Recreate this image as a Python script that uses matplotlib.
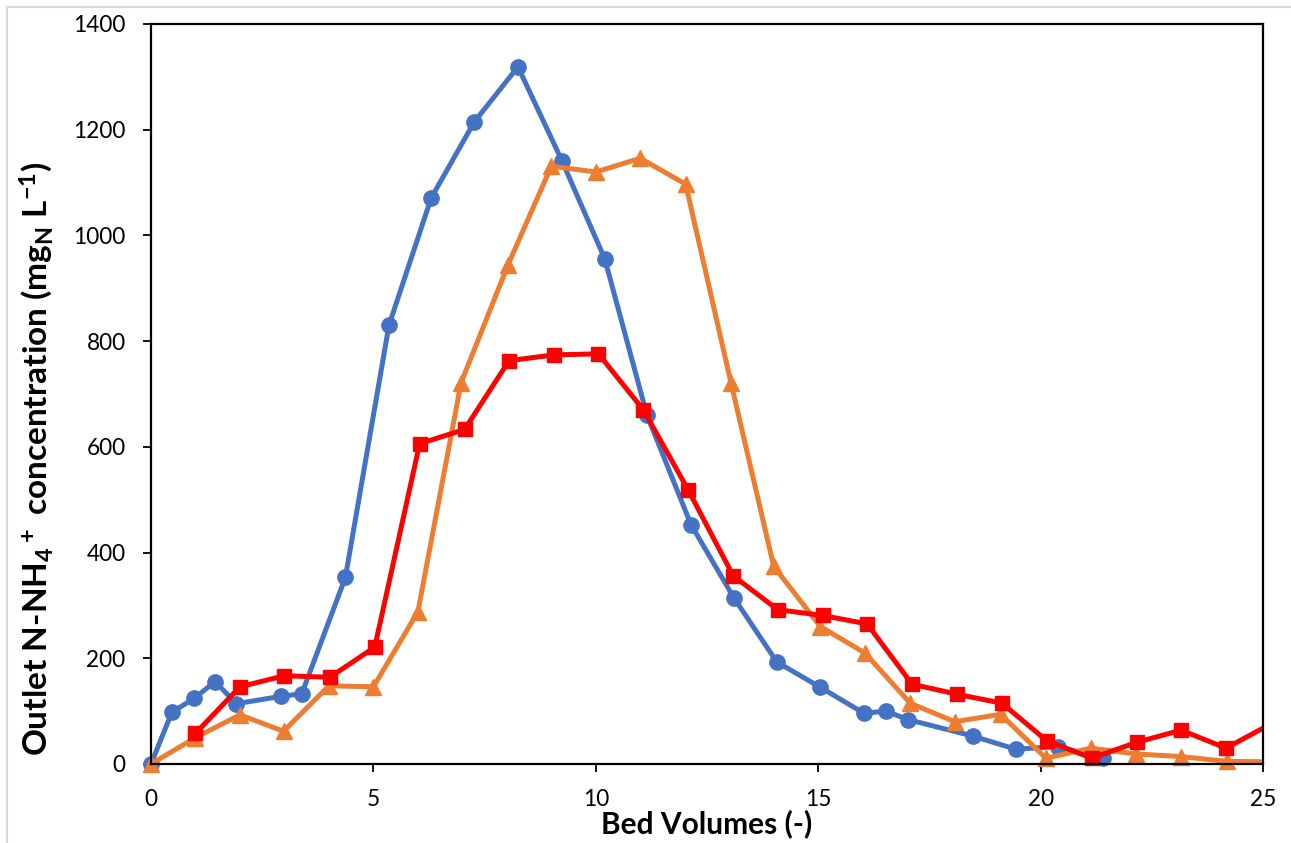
import matplotlib
matplotlib.use("Agg")
import matplotlib.pyplot as plt
from matplotlib.patches import Rectangle

plt.rcParams['font.family'] = ['Lato', 'DejaVu Sans']
plt.rcParams['mathtext.default'] = 'regular'

# series 1 (blue, circles)
bv_blue = [0, 0.47, 0.97, 1.44, 1.92, 2.92, 3.39, 4.37, 5.35, 6.3, 7.27, 8.25, 9.24,
           10.2, 11.15, 12.14, 13.1, 14.07, 15.05, 16.03, 16.52, 17.02, 18.47, 19.44,
           20.39, 21.4]
conc_blue = [0, 98, 124, 156, 114, 128, 133, 353, 830, 1071, 1215, 1319, 1141,
             956, 660, 453, 315, 193, 145, 96, 100, 84, 53, 28, 33, 11]

# series 2 (orange, triangles)
bv_orange = [0, 1.0, 2.0, 2.98, 4.0, 5.0, 6.0, 6.97, 8.03, 9.0, 10.0, 11.0, 12.02,
             13.04, 14.0, 15.05, 16.05, 17.07, 18.07, 19.1, 20.12, 21.13, 22.15,
             23.16, 24.18, 25.2]
conc_orange = [0, 50, 93, 62, 148, 146, 288, 721, 945, 1131, 1120, 1146, 1097,
               721, 374, 260, 210, 115, 80, 94, 11, 30, 19, 14, 5, 4]

# series 3 (red, squares)
bv_red = [1.0, 2.0, 3.0, 4.02, 5.03, 6.04, 7.05, 8.05, 9.06, 10.06, 11.07, 12.08,
          13.09, 14.09, 15.1, 16.1, 17.11, 18.12, 19.13, 20.14, 21.15, 22.16, 23.16,
          24.17, 25.18]
conc_red = [58, 146, 167, 164, 221, 606, 633, 763, 774, 776, 670, 518,
            356, 292, 281, 265, 151, 132, 115, 44, 11, 41, 64, 30, 76]

fig = plt.figure(figsize=(12.91, 8.43), dpi=100)
ax = fig.add_axes([151 / 1291, 79 / 843, 1112 / 1291, 740 / 843])

lw = 3.6
series = [
    (bv_blue, conc_blue, '#4472C4', 'o', 11),
    (bv_orange, conc_orange, '#ED7D31', '^', 12),
    (bv_red, conc_red, '#FF0000', 's', 10.5),
]
for xs, ys, col, mk, ms in series:
    ax.plot(xs, ys, color=col, lw=lw)
    # markers inside the x range are drawn unclipped (the one at the origin sits on the axes)
    inside = [(x, y) for x, y in zip(xs, ys) if x <= 25]
    ax.plot([p[0] for p in inside], [p[1] for p in inside], ls='none',
            marker=mk, ms=ms, color=col, clip_on=False)

ax.set_xlim(0, 25)
ax.set_ylim(0, 1400)
ax.set_xticks(range(0, 26, 5))
ax.set_yticks(range(0, 1401, 200))

for s in ax.spines.values():
    s.set_linewidth(1.6)
    s.set_color('black')
ax.tick_params(direction='out', length=5.8, width=1.3, labelsize=16.3, pad=12.5)

ax.set_xlabel('Bed Volumes (-)', fontsize=21.5, fontweight='bold', labelpad=-1)
ax.set_ylabel('Outlet N-NH$_4$$^+$ concentration (mg$_N$ L$^{-1}$)',
              fontsize=24, fontweight='bold')
ax.yaxis.set_label_coords(-0.086, 0.412)

# light frame around the chart area
fig.patches.append(Rectangle((7 / 1291, -0.1), 1.2, (843 - 7) / 843 + 0.1,
                             transform=fig.transFigure, fill=False,
                             edgecolor='#d9d9d9', lw=1.5))

fig.savefig('out.png', dpi=100)
